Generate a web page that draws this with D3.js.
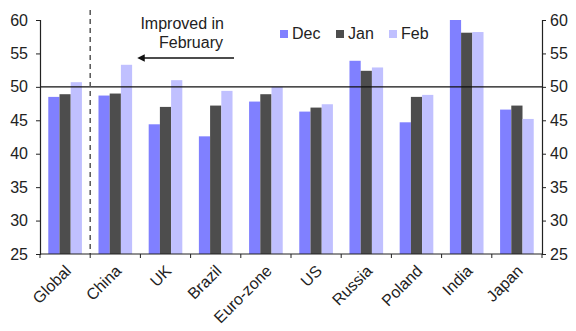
<!DOCTYPE html>
<html>
<head>
<meta charset="utf-8">
<script src="https://cdn.jsdelivr.net/npm/d3@7"></script>
<style>
	body { margin: 0; background: #fff; }
	text { font-family: "Liberation Sans", Arial, sans-serif; fill: #222; }
</style>
</head>
<body>
<div id="chart"></div>
<script>
// values
var categories = ["Global", "China", "UK", "Brazil", "Euro-zone", "US", "Russia", "Poland", "India", "Japan"];
var seriesNames = ["Dec", "Jan", "Feb"];
var dec = [48.5, 48.7, 44.4, 42.6, 47.8, 46.3, 53.9, 44.7, 60.0, 46.6];
var jan = [48.9, 49.0, 47.0, 47.2, 48.9, 46.9, 52.4, 48.5, 58.1, 47.2];
var feb = [50.7, 53.3, 51.0, 49.4, 50.0, 47.4, 52.9, 48.8, 58.2, 45.2];
var yTicks = [25, 30, 35, 40, 45, 50, 55, 60];
var colors = ["#8080ff", "#4d4d4d", "#c0c0ff"];

var W = 576, H = 331;
var margin = { top: 20, right: 34, bottom: 77, left: 40 },
	width = W - margin.left - margin.right,
	height = H - margin.top - margin.bottom;

var svg = d3.select("#chart")
	.append("svg")
	.attr("width", W)
	.attr("height", H)
	.append("g")
	.attr("transform", "translate(" + margin.left + "," + margin.top + ")");

var x = d3.scaleBand().domain(categories).range([0, width]).paddingInner(0.33).paddingOuter(0.165);
var x1 = d3.scaleBand().domain(seriesNames).range([0, x.bandwidth()]);
var y = d3.scaleLinear().domain([25, 60]).range([height, 0]);

var data = categories.map(function (c, i) {
	return { cat: c, vals: [dec[i], jan[i], feb[i]] };
});

// bars
var groups = svg.selectAll(".grp")
	.data(data)
	.enter().append("g")
	.attr("transform", function (d) { return "translate(" + x(d.cat) + ",0)"; });

groups.selectAll("rect")
	.data(function (d) { return d.vals.map(function (v, j) { return { s: seriesNames[j], v: v, j: j }; }); })
	.enter().append("rect")
	.attr("x", function (d) { return x1(d.s); })
	.attr("width", x1.bandwidth())
	.attr("y", function (d) { return y(d.v); })
	.attr("height", function (d) { return height - y(d.v); })
	.attr("fill", function (d) { return colors[d.j]; });

// 50 line
svg.append("line")
	.attr("x1", 0).attr("x2", width)
	.attr("y1", y(50)).attr("y2", y(50))
	.attr("stroke", "#111").attr("stroke-width", 1.2);

// dashed divider between Global and China
var step = width / categories.length;
svg.append("line")
	.attr("x1", step).attr("x2", step)
	.attr("y1", -10).attr("y2", height)
	.attr("stroke", "#555").attr("stroke-width", 1.5)
	.attr("stroke-dasharray", "5,4");

// axes
var left = svg.append("g")
	.call(d3.axisLeft(y).tickValues(yTicks).tickSize(4).tickPadding(8));
var right = svg.append("g")
	.attr("transform", "translate(" + width + ",0)")
	.call(d3.axisRight(y).tickValues(yTicks).tickSize(4).tickPadding(4));
[left, right].forEach(function (a) {
	a.select(".domain").attr("stroke", "#222").attr("stroke-width", 1.2);
	a.selectAll(".tick line").attr("stroke", "#222");
	a.selectAll("text").style("font-size", "16px").attr("fill", "#222");
});

var xAxis = svg.append("g").attr("transform", "translate(0," + height + ")");
xAxis.append("line").attr("x1", 0).attr("x2", width).attr("stroke", "#222").attr("stroke-width", 1.2);
xAxis.selectAll(".xt")
	.data(d3.range(categories.length + 1))
	.enter().append("line")
	.attr("x1", function (i) { return i * step; })
	.attr("x2", function (i) { return i * step; })
	.attr("y1", 0).attr("y2", 4)
	.attr("stroke", "#222");
xAxis.selectAll(".xl")
	.data(categories)
	.enter().append("text")
	.attr("text-anchor", "end")
	.style("font-size", "16px")
	.attr("transform", function (d) {
		return "translate(" + (x(d) + x.bandwidth() / 2 - 1) + ",10) rotate(-45)";
	})
	.attr("dy", "0.7em")
	.text(function (d) { return d; });

// legend
var legX = [240, 296, 349];
var leg = svg.selectAll(".leg")
	.data(seriesNames)
	.enter().append("g")
	.attr("transform", function (d, i) { return "translate(" + legX[i] + ",11)"; });
leg.append("rect").attr("width", 8).attr("height", 8).attr("y", -1)
	.attr("fill", function (d, i) { return colors[i]; });
leg.append("text").attr("x", 12).attr("y", 8)
	.style("font-size", "16px")
	.text(function (d) { return d; });

// annotation
svg.append("text").attr("x", 184).attr("y", 9)
	.attr("text-anchor", "end").style("font-size", "16px").text("Improved in");
svg.append("text").attr("x", 183).attr("y", 28)
	.attr("text-anchor", "end").style("font-size", "16px").text("February");

svg.append("defs").append("marker")
	.attr("id", "arr")
	.attr("viewBox", "0 0 10 10")
	.attr("refX", 1).attr("refY", 5)
	.attr("markerWidth", 5).attr("markerHeight", 5)
	.attr("orient", "auto-start-reverse")
	.append("path").attr("d", "M0,0L10,5L0,10z").attr("fill", "#111");
svg.append("line")
	.attr("x1", 194).attr("x2", 104)
	.attr("y1", 38).attr("y2", 38)
	.attr("stroke", "#111").attr("stroke-width", 1.5)
	.attr("marker-end", "url(#arr)");
</script>
</body>
</html>
